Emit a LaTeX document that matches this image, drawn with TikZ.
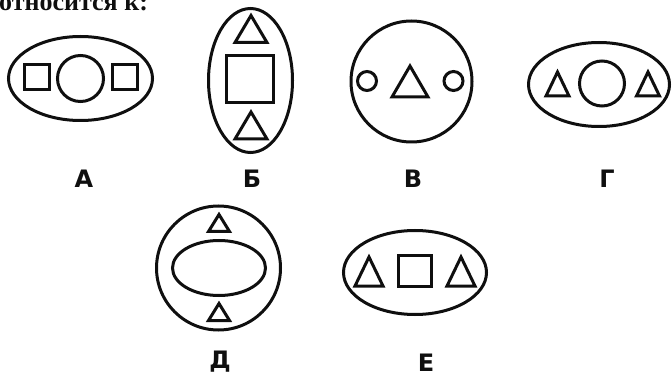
\documentclass[tikz,border=0pt]{standalone}
\usepackage{fontspec}
\setmainfont{Liberation Serif}
\newfontfamily\lettrfont{DejaVu Sans}
\usetikzlibrary{shapes.geometric, positioning}
\definecolor{colInk}{RGB}{ 15, 15, 15}
\tikzset{
  figline/.style={
    draw=colInk, line width=3pt, line join=miter
  },
  outerell/.style 2 args={
    ellipse, figline, inner sep=0pt,
    minimum width=#1, minimum height=#2
  },
  sqbox/.style 2 args={
    rectangle, figline, inner sep=0pt,
    minimum width=#1, minimum height=#2
  },
  rnd/.style={
    circle, figline, inner sep=0pt, minimum size=#1
  },
  lettr/.style={
    font=\lettrfont\bfseries\fontsize{24}{24}\selectfont,
    text=colInk, anchor=base, inner sep=0pt
  },
  pics/tri/.style 2 args={
    code={\draw[figline] (-#1/2,#2/2) -- (0,-#2/2) -- (#1/2,#2/2) -- cycle;}
  },
}

\begin{document}
\begin{tikzpicture}[x=1pt, y=-1pt]

\useasboundingbox (0,0) rectangle (672,374);
\clip (0,0) rectangle (672,374);

%% ══════════════════════════════════════════════════════════════
%%  HEADING  (cut off at the top)
%% ══════════════════════════════════════════════════════════════
\node[anchor=base west, inner sep=0pt, text=colInk,
      font=\bfseries\fontsize{26}{26}\selectfont] (head) at (-1,11) {относится к:};

%% ══════════════════════════════════════════════════════════════
%%  TOP ROW
%% ══════════════════════════════════════════════════════════════

% А
\node[outerell={144pt}{84pt}] (figA) at (80.5,78.5) {};
\node[sqbox={25pt}{25pt}] (sqAl) at (37,77.5) {};
\node[rnd=46pt] (ciA) at (80.5,78.5) {};
\node[sqbox={25pt}{25pt}] (sqAr) at (125,77.5) {};
\node[lettr] (lblA) at (84,188) {А};

% Б
\node[outerell={84pt}{144pt}] (figB) at (250.5,80.5) {};
\pic (trBt) at (251,29) {tri={32}{27}};
\node[sqbox={47pt}{47pt}] (sqB) at (250,79.5) {};
\pic (trBb) at (251,125.5) {tri={32}{27}};
\node[lettr] (lblB) at (252,188) {Б};

% В
\node[rnd=121pt] (figV) at (411.5,81.5) {};
\node[rnd=19pt] (ciVl) at (367,81) {};
\pic (trV) at (410,81.5) {tri={36}{31}};
\node[rnd=19pt] (ciVr) at (453.5,81) {};
\node[lettr] (lblV) at (413,188) {В};

% Г
\node[outerell={141pt}{84pt}] (figG) at (599,84.5) {};
\pic (trGl) at (557.5,84) {tri={23}{24}};
\node[rnd=45pt] (ciG) at (602,83.5) {};
\pic (trGr) at (648,84) {tri={23}{24}};
\node[lettr] (lblG) at (607,188) {Г};

%% ══════════════════════════════════════════════════════════════
%%  BOTTOM ROW
%% ══════════════════════════════════════════════════════════════

% Д
\node[rnd=124pt] (figD) at (218.5,268) {};
\pic (trDt) at (219,223) {tri={21}{17}};
\node[outerell={93pt}{55pt}] (elD) at (219,268) {};
\pic (trDb) at (219,312) {tri={21}{17}};
\node[lettr] (lblD) at (220,368) {Д};

% Е
\node[outerell={143pt}{84pt}] (figE) at (415,272.5) {};
\pic (trEl) at (369,271.5) {tri={28}{29}};
\node[sqbox={33pt}{31pt}] (sqE) at (415,271) {};
\pic (trEr) at (461,271.5) {tri={28}{29}};
\node[lettr] (lblE) at (426,371) {Е};

\end{tikzpicture}
\end{document}
